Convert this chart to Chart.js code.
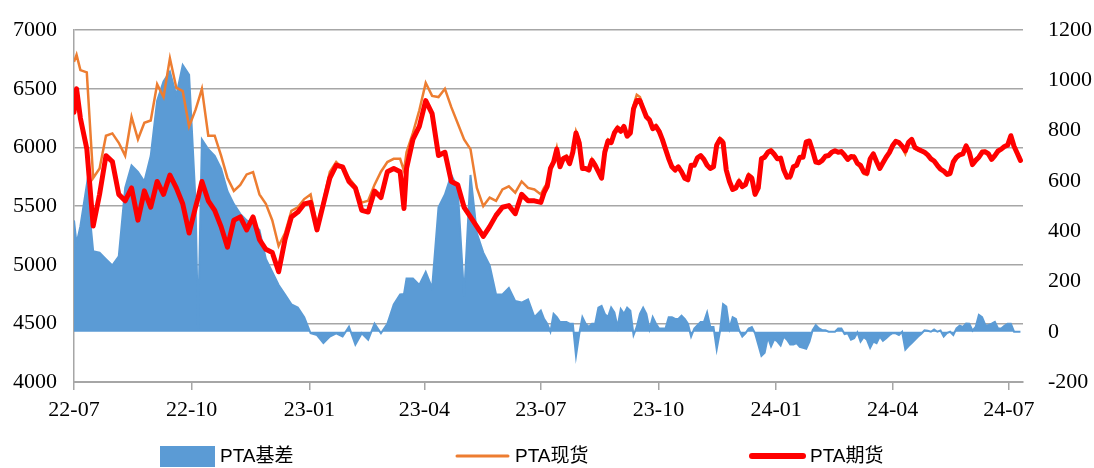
<!DOCTYPE html>
<html>
<head>
<meta charset="utf-8">
<script src="https://cdn.jsdelivr.net/npm/chart.js@4.4.1/dist/chart.umd.min.js"></script>
<style>
  html, body { margin: 0; padding: 0; background: #ffffff; }
  #wrap { width: 1094px; height: 468px; }
</style>
</head>
<body>
<div id="wrap"><canvas id="c" width="1094" height="468"></canvas></div>
<script>
// Observation dates, in days counted from 2022-07-01
const days = [
  0, 2, 5, 10, 15, 20, 25, 30, 35, 40, 45, 50, 55, 60, 65, 70, 75, 80, 85, 90, 95, 97,
  100, 105, 110, 115, 120, 125, 130, 135, 140, 145, 150, 155, 160, 165, 170, 175, 180, 185, 190, 195,
  200, 205, 210, 215, 220, 225, 230, 235, 240, 245, 250, 255, 258, 260, 265, 270, 275, 280, 285, 290, 295,
  300, 305, 310, 315, 320, 325, 330, 335, 340, 345, 350, 355, 360,
  365, 367.5, 370, 372.5, 375, 377.5, 380, 382.5, 385, 387.5,
  390, 392.5, 395, 397.5, 400, 402.5, 405, 407.5, 410, 412.5,
  415, 417.5, 420, 422.5, 425, 427.5, 430, 432.5, 435, 437.5,
  440, 442.5, 445, 447.5, 450, 452.5, 455, 457.5, 460, 462.5,
  465, 467.5, 470, 472.5, 475, 477.5, 480, 482.5, 485, 487.5,
  490, 492.5, 495, 497.5, 500, 502.5, 505, 507.5, 510, 512.5,
  515, 517.5, 520, 522.5, 525, 527.5, 530, 532.5, 535, 537.5,
  540, 542.5, 545, 547.5, 550, 552.5, 555, 557.5, 560, 562.5,
  565, 567.5, 570, 572.5, 575, 577.5, 580, 582.5, 585, 587.5,
  590, 592.5, 595, 597.5, 600, 602.5, 605, 607.5, 610, 612.5,
  615, 617.5, 620, 622.5, 625, 627.5, 630, 632.5, 635, 637.5,
  640, 642.5, 645, 647.5, 650, 652.5, 655, 657.5, 660, 662.5,
  665, 667.5, 670, 672.5, 675, 677.5, 680, 682.5, 685, 687.5,
  690, 692.5, 695, 697.5, 700, 702.5, 705, 707.5, 710, 712.5,
  715, 717.5, 720, 722.5, 725, 727.5, 730, 732.5, 735, 737.5,
  740
];

// PTA spot price (left axis)
const spot = [
  6730, 6790, 6660, 6640, 5740, 5820, 6100, 6120, 6040, 5930, 6260, 6070, 6210, 6230, 6540, 6430, 6760, 6510, 6480, 6180, 6320, 6390,
  6500, 6100, 6100, 5930, 5740, 5630, 5680, 5770, 5790, 5600, 5520, 5380, 5160, 5270, 5460, 5490, 5560, 5600, 5340, 5545,
  5790, 5876, 5820, 5740, 5670, 5530, 5545, 5683, 5793, 5876, 5903, 5903, 5800, 5959, 6124, 6317, 6550, 6440, 6430, 6500, 6344,
  6207, 6069, 5986, 5655, 5500, 5573, 5545, 5642, 5669, 5614, 5710, 5655, 5642,
  5600, 5655, 5697, 5835, 5890, 6000, 5862, 5917, 5931, 5876,
  5972, 6138, 6069, 5835, 5821, 5821, 5903, 5862, 5793, 5752,
  5959, 6069, 6055, 6138, 6179, 6151, 6179, 6110, 6151, 6360,
  6450, 6430, 6344, 6275, 6234, 6170, 6193, 6150, 6069, 5990,
  5903, 5840, 5821, 5840, 5807, 5750, 5738, 5855, 5848, 5920,
  5931, 5905, 5848, 5830, 5848, 6035, 6083, 6060, 5807, 5725,
  5655, 5670, 5724, 5680, 5697, 5775, 5752, 5640, 5683, 5915,
  5931, 5970, 5986, 5950, 5903, 5915, 5821, 5755, 5738, 5840,
  5848, 5920, 5931, 6050, 6055, 5980, 5890, 5880, 5890, 5930,
  5931, 5965, 5972, 5965, 5972, 5940, 5903, 5925, 5931, 5860,
  5821, 5775, 5766, 5900, 5945, 5875, 5821, 5870, 5917, 5956,
  6014, 6052, 6041, 6000, 5945, 6030, 6041, 5990, 5972, 5965,
  5959, 5937, 5903, 5884, 5848, 5815, 5793, 5760, 5766, 5870,
  5903, 5935, 5945, 6010, 5945, 5860, 5903, 5920, 5972, 5970,
  5945, 5905, 5931, 5975, 5986, 6010, 6028, 6070, 6000, 5950,
  5917
];

// PTA futures price (left axis)
const futures = [
  6300, 6500, 6250, 5990, 5330, 5600, 5930, 5880, 5600, 5545, 5655, 5380, 5630, 5490, 5710, 5600, 5765, 5655, 5520, 5270, 5490, 5570,
  5710, 5545, 5463, 5325, 5150, 5380, 5408, 5297, 5408, 5215, 5132, 5105, 4940, 5215, 5408, 5449, 5518, 5532, 5297, 5518,
  5738, 5848, 5835, 5710, 5655, 5463, 5449, 5628, 5573, 5793, 5821, 5793, 5480, 5821, 6069, 6179, 6400, 6289, 5931, 5959, 5710,
  5683, 5490, 5408, 5325, 5242, 5325, 5421, 5490, 5504, 5435, 5600, 5545, 5545,
  5532, 5614, 5669, 5821, 5876, 5986, 5835, 5903, 5917, 5862,
  5959, 6124, 6041, 5821, 5821, 5807, 5890, 5848, 5793, 5738,
  5959, 6055, 6041, 6124, 6165, 6138, 6179, 6096, 6124, 6331,
  6400, 6400, 6331, 6262, 6234, 6160, 6179, 6138, 6069, 5986,
  5903, 5835, 5807, 5835, 5793, 5738, 5724, 5849, 5848, 5912,
  5931, 5898, 5848, 5821, 5835, 6020, 6069, 6041, 5807, 5710,
  5642, 5655, 5710, 5666, 5683, 5760, 5738, 5600, 5655, 5903,
  5917, 5959, 5972, 5942, 5903, 5909, 5807, 5746, 5752, 5835,
  5848, 5917, 5917, 6047, 6055, 5972, 5876, 5870, 5890, 5925,
  5931, 5959, 5972, 5959, 5965, 5934, 5898, 5923, 5917, 5865,
  5848, 5791, 5780, 5903, 5945, 5881, 5821, 5870, 5917, 5956,
  6014, 6052, 6041, 6011, 5972, 6044, 6069, 6000, 5986, 5972,
  5959, 5937, 5903, 5884, 5848, 5815, 5799, 5771, 5780, 5876,
  5917, 5937, 5945, 6014, 5959, 5854, 5890, 5917, 5959, 5964,
  5945, 5898, 5931, 5970, 5986, 6008, 6020, 6100, 6010, 5950,
  5890
];

// PTA basis, spot minus futures (right axis)
const basis = [
  443, 350, 420, 585, 320, 315, 289, 264, 300, 572, 662, 636, 598, 700, 919, 996, 1035, 940, 1061, 1022, 520, 10,
  765, 726, 700, 649, 559, 508, 469, 443, 430, 405, 290, 238, 186, 148, 109, 96, 58, -6, -13, -45,
  -19, -6, -19, 20, -51, -6, -32, 32, -6, 32, 109, 148, 150, 212, 212, 186, 238, 174, 495, 546, 624,
  572, 140, 624, 392, 315, 264, 148, 148, 174, 122, 116, 129, 58,
  84, 51, 32, 0, 71, 58, 39, 39, 39, 32,
  32, -96, -10, 58, 32, 19, 32, 32, 96, 103,
  71, 58, 96, 77, 19, 90, 71, 96, 84, -13,
  19, 71, 96, 71, 10, 58, 32, 13, 13, 13,
  58, 58, 51, 51, 64, 51, 32, -19, 13, 26,
  39, 39, 77, 19, 19, -70, 0, 110, 100, 13,
  58, 51, 6, -19, -6, 13, 19, -6, -51, -96,
  -84, -22, -58, -30, -39, -55, -19, -32, -51, -51,
  -45, -60, -64, -68, -39, 6, 26, 13, 6, 6,
  0, 0, 0, 13, 13, -9, -6, -32, -26, -3,
  -39, -21, -32, -64, -39, -45, -19, -36, -26, -14,
  -6, -6, -13, 0, -71, -57, -45, -32, -19, -8,
  6, 4, 0, 9, 0, 5, -19, -5, 0, -13,
  13, 24, 19, 33, 32, 4, 19, 67, 58, 27,
  26, 32, 39, 13, 13, 24, 32, 32, 0, 0,
  0
];

// Quarter marks on the date axis
const tickDays = [0, 92, 184, 274, 365, 457, 549, 640, 731];
const tickLabels = ['22-07', '22-10', '23-01', '23-04', '23-07', '23-10', '24-01', '24-04', '24-07'];

const seriesNames = ['PTA基差', 'PTA现货', 'PTA期货'];
const seriesColors = ['#5B9BD5', '#ED7D31', '#FF0000'];

const GRID = '#a6a6a6';
const tickFont = { family: '"Liberation Serif", "Times New Roman", serif', size: 22 };

const toPoints = (vals) => days.map((d, i) => ({ x: d, y: vals[i] }));

// Legend row drawn under the axis: a swatch (box or line) followed by its name
const bottomLegend = {
  id: 'bottomLegend',
  afterDraw(chart) {
    const ctx = chart.ctx;
    const cy = 456;
    const starts = [160, 455, 750];
    const swatchW = 55;
    ctx.save();
    ctx.font = '19px "Liberation Sans", "Noto Sans CJK SC", sans-serif';
    ctx.textBaseline = 'middle';
    ctx.textAlign = 'left';
    chart.data.datasets.forEach((ds, i) => {
      const x0 = starts[i];
      if (i === 0) {
        ctx.fillStyle = ds.backgroundColor;
        ctx.fillRect(x0, cy - 10, swatchW, 21);
      } else {
        ctx.strokeStyle = ds.borderColor;
        ctx.lineWidth = i === 1 ? 3 : 6;
        ctx.lineCap = 'round';
        ctx.beginPath();
        ctx.moveTo(x0 + 2, cy);
        ctx.lineTo(x0 + swatchW - 2, cy);
        ctx.stroke();
      }
      ctx.fillStyle = '#000000';
      ctx.fillText(ds.label, x0 + swatchW + 5, cy + 1);
    });
    ctx.restore();
  }
};

new Chart(document.getElementById('c'), {
  type: 'line',
  data: {
    datasets: [
      {
        label: seriesNames[0],
        data: toPoints(basis),
        yAxisID: 'yR',
        borderColor: seriesColors[0],
        backgroundColor: seriesColors[0],
        borderWidth: 2,
        fill: 'origin',
        pointRadius: 0,
        tension: 0,
        order: 3
      },
      {
        label: seriesNames[1],
        data: toPoints(spot),
        yAxisID: 'yL',
        borderColor: seriesColors[1],
        backgroundColor: seriesColors[1],
        borderWidth: 2.5,
        fill: false,
        pointRadius: 0,
        tension: 0,
        order: 2
      },
      {
        label: seriesNames[2],
        data: toPoints(futures),
        yAxisID: 'yL',
        borderColor: seriesColors[2],
        backgroundColor: seriesColors[2],
        borderWidth: 5,
        borderJoinStyle: 'round',
        borderCapStyle: 'round',
        fill: false,
        pointRadius: 0,
        tension: 0,
        order: 1
      }
    ]
  },
  options: {
    responsive: false,
    animation: false,
    devicePixelRatio: 1,
    layout: { padding: { top: 19, bottom: 36, left: 0, right: 0 } },
    plugins: { legend: { display: false }, tooltip: { enabled: false } },
    scales: {
      x: {
        type: 'linear',
        position: 'bottom',
        min: 0,
        max: 742,
        afterBuildTicks: (s) => { s.ticks = tickDays.map(v => ({ value: v })); },
        afterFit: (s) => { s.height = 50; },
        ticks: {
          callback: (v) => tickLabels[tickDays.indexOf(v)],
          font: tickFont,
          color: '#000000',
          padding: 7,
          maxRotation: 0,
          autoSkip: false
        },
        grid: { drawOnChartArea: false, drawTicks: true, tickLength: 8, color: GRID, lineWidth: 1.5 },
        border: { display: true, color: GRID, width: 2 }
      },
      yL: {
        position: 'left',
        min: 4000,
        max: 7000,
        afterFit: (s) => { s.width = 74; },
        ticks: { stepSize: 500, font: tickFont, color: '#000000', padding: 17, callback: (v) => String(v) },
        grid: { color: GRID, lineWidth: 1.5, drawTicks: false },
        border: { display: true, color: GRID, width: 1.5 }
      },
      yR: {
        position: 'right',
        min: -200,
        max: 1200,
        afterFit: (s) => { s.width = 71; },
        ticks: { stepSize: 200, font: tickFont, color: '#000000', padding: 17, callback: (v) => String(v) },
        grid: { display: false, drawOnChartArea: false },
        border: { display: false }
      }
    }
  },
  plugins: [bottomLegend]
});
</script>
</body>
</html>
